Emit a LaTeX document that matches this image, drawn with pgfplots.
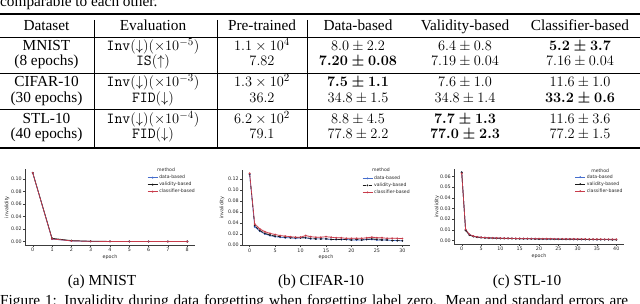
\documentclass[border=0pt]{standalone}
\usepackage{fontspec}
\setmainfont{Liberation Serif}
\newfontfamily\plotfont{DejaVu Sans}
\usepackage{pgfplots}
\pgfplotsset{compat=1.18}
\usepackage{pgfplotstable}

\definecolor{cdata}{RGB}{70,110,205}
\definecolor{cval}{RGB}{25,25,25}
\definecolor{ccls}{RGB}{200,60,75}
\definecolor{spine}{RGB}{60,60,60}

\newcommand{\bmath}[1]{\mbox{\mathversion{bold}$#1$}}

\pgfplotstableread{
e d v c
0 0.110 0.110 0.110
1 0.0040 0.0052 0.0042
2 0.0010 0.0016 0.0011
3 0.0003 0.0005 0.0003
4 0.0002 0.0003 0.0002
5 0.0001 0.0002 0.0001
6 0.0001 0.0001 0.0001
7 0.0001 0.0001 0.0001
8 0.0001 0.0001 0.0001
}\mnist

\pgfplotstableread{
e d v c
0 0.128 0.129 0.130
1 0.033 0.035 0.038
2 0.025 0.026 0.029
3 0.020 0.021 0.024
4 0.017 0.018 0.021
5 0.015 0.016 0.019
6 0.014 0.015 0.017
7 0.013 0.014 0.016
8 0.013 0.013 0.015
9 0.012 0.013 0.014
10 0.013 0.013 0.014
11 0.013 0.013 0.017
12 0.011 0.012 0.015
13 0.011 0.011 0.014
14 0.011 0.011 0.014
15 0.011 0.011 0.015
16 0.010 0.010 0.014
17 0.010 0.010 0.013
18 0.010 0.010 0.013
19 0.010 0.010 0.012
20 0.009 0.009 0.012
21 0.009 0.010 0.012
22 0.009 0.009 0.012
23 0.010 0.010 0.013
24 0.010 0.011 0.014
25 0.009 0.010 0.013
26 0.009 0.009 0.013
27 0.009 0.009 0.012
28 0.008 0.008 0.012
29 0.008 0.008 0.012
30 0.0075 0.0076 0.0116
}\cifar

\pgfplotstableread{
e d v c
0 0.064 0.064 0.063
1 0.0100 0.0095 0.0105
2 0.0055 0.0052 0.0058
3 0.0040 0.0038 0.0042
4 0.0033 0.0032 0.0035
5 0.0029 0.0028 0.0031
6 0.0027 0.0026 0.0028
7 0.0025 0.0024 0.0026
8 0.0024 0.0023 0.0025
9 0.0023 0.0022 0.0024
10 0.0022 0.0021 0.0023
11 0.0021 0.0020 0.0022
12 0.0020 0.0020 0.0021
13 0.0020 0.0019 0.0021
14 0.0019 0.0018 0.0020
15 0.0018 0.0018 0.0020
16 0.0018 0.0017 0.0019
17 0.0017 0.0017 0.0019
18 0.0017 0.0016 0.0018
19 0.0016 0.0016 0.0018
20 0.0016 0.0015 0.0018
21 0.0015 0.0015 0.0017
22 0.0015 0.0014 0.0017
23 0.0014 0.0014 0.0017
24 0.0014 0.0013 0.0016
25 0.0014 0.0013 0.0016
26 0.0013 0.0013 0.0016
27 0.0013 0.0012 0.0015
28 0.0013 0.0012 0.0015
29 0.0012 0.0012 0.0015
30 0.0012 0.0011 0.0014
31 0.0012 0.0011 0.0014
32 0.0011 0.0011 0.0014
33 0.0011 0.0010 0.0013
34 0.0011 0.0010 0.0013
35 0.0010 0.0010 0.0013
36 0.0010 0.0009 0.0013
37 0.0010 0.0009 0.0012
38 0.0009 0.0009 0.0012
39 0.0009 0.0008 0.0012
40 0.0009 0.0008 0.0012
}\stl

\pgfplotsset{
  sns/.style={
    scale only axis,
    axis lines*=left,
    axis line style={spine, line width=0.5pt},
    tick style={spine, line width=0.45pt},
    tick align=outside,
    major tick length=2pt,
    /pgf/number format/assume math mode=true,
    tick label style={font=\plotfont\fontsize{4.8}{5.5}\selectfont, text=black!85, inner sep=1pt},
    yticklabel style={/pgf/number format/fixed, /pgf/number format/fixed zerofill, /pgf/number format/precision=2},
    scaled y ticks=false,
    xlabel={epoch}, ylabel={invalidity},
    label style={font=\plotfont\fontsize{4.8}{5.5}\selectfont, text=black!85},
    xlabel style={at={(axis description cs:0.5,0)}, anchor=center, yshift=-12pt},
    clip=false,
    legend cell align=left,
    legend style={draw=none, fill=none, inner sep=0pt, anchor=north west,
      font=\plotfont\fontsize{4.6}{5}\selectfont, text=black!85,
      nodes={inner sep=1.3pt, text height=3.4pt, text depth=1pt}},
    legend image code/.code={\draw[mark repeat=2,mark phase=2,##1] plot coordinates {(0pt,0pt) (5pt,0pt) (10pt,0pt)};},
    every axis plot/.append style={line width=0.7pt, mark=*, mark size=0.55pt},
  }
}

\newcommand{\tfont}{\fontsize{15.3}{18}\selectfont}

\begin{document}
\begin{tikzpicture}[x=1pt,y=1pt]
\useasboundingbox (0,0) rectangle (640,304);

% text above
\node[anchor=base west, inner sep=0] at (0,{304-6.5}) {\tfont comparable to each other.};

% rules
\draw[line width=1.2pt] (0,{304-14}) -- (640,{304-14});
\draw[line width=0.75pt] (0,{304-37.8}) -- (640,{304-37.8});
\draw[line width=0.75pt] (0,{304-73}) -- (640,{304-73});
\draw[line width=0.75pt] (0,{304-109.3}) -- (640,{304-109.3});
\draw[line width=1.2pt] (0,{304-148}) -- (640,{304-148});
\foreach \xx in {94,217,307} {\draw[line width=0.6pt] (\xx,{304-20}) -- (\xx,{304-148});}

% table text
\begin{scope}[every node/.style={anchor=base, inner sep=0, font=\tfont}]
\node at (46.5,{304-30.7}) {Dataset};
\node at (153,{304-30.7}) {Evaluation};
\node at (262,{304-30.7}) {Pre-trained};
\node at (358,{304-30.7}) {Data-based};
\node at (465,{304-30.7}) {Validity-based};
\node at (580,{304-30.7}) {Classifier-based};

\node at (46.5,{304-50.7}) {MNIST};
\node at (153,{304-50.7}) {\texttt{Inv}$(\downarrow)(\times10^{-5})$};
\node at (262,{304-50.7}) {$1.1\times10^{4}$};
\node at (358,{304-50.7}) {$8.0\pm2.2$};
\node at (465,{304-50.7}) {$6.4\pm0.8$};
\node at (580,{304-50.7}) {\bmath{5.2\pm3.7}};

\node at (46.5,{304-65.9}) {(8 epochs)};
\node at (153,{304-65.9}) {\texttt{IS}$(\uparrow)$};
\node at (262,{304-65.9}) {$7.82$};
\node at (358,{304-65.9}) {\bmath{7.20\pm0.08}};
\node at (465,{304-65.9}) {$7.19\pm0.04$};
\node at (580,{304-65.9}) {$7.16\pm0.04$};

\node at (46.5,{304-87}) {CIFAR-10};
\node at (153,{304-87}) {\texttt{Inv}$(\downarrow)(\times10^{-3})$};
\node at (262,{304-87}) {$1.3\times10^{2}$};
\node at (358,{304-87}) {\bmath{7.5\pm1.1}};
\node at (465,{304-87}) {$7.6\pm1.0$};
\node at (580,{304-87}) {$11.6\pm1.0$};

\node at (46.5,{304-102.2}) {(30 epochs)};
\node at (153,{304-102.2}) {\texttt{FID}$(\downarrow)$};
\node at (262,{304-102.2}) {$36.2$};
\node at (358,{304-102.2}) {$34.8\pm1.5$};
\node at (465,{304-102.2}) {$34.8\pm1.4$};
\node at (580,{304-102.2}) {\bmath{33.2\pm0.6}};

\node at (46.5,{304-123.3}) {STL-10};
\node at (153,{304-123.3}) {\texttt{Inv}$(\downarrow)(\times10^{-4})$};
\node at (262,{304-123.3}) {$6.2\times10^{2}$};
\node at (358,{304-123.3}) {$8.8\pm4.5$};
\node at (465,{304-123.3}) {\bmath{7.7\pm1.3}};
\node at (580,{304-123.3}) {$11.6\pm3.6$};

\node at (46.5,{304-138.5}) {(40 epochs)};
\node at (153,{304-138.5}) {\texttt{FID}$(\downarrow)$};
\node at (262,{304-138.5}) {$79.1$};
\node at (358,{304-138.5}) {$77.8\pm2.2$};
\node at (465,{304-138.5}) {\bmath{77.0\pm2.3}};
\node at (580,{304-138.5}) {$77.2\pm1.5$};

\node at (102,{304-286}) {(a) MNIST};
\node at (321,{304-286}) {(b) CIFAR-10};
\node at (527,{304-286}) {(c) STL-10};
\end{scope}

\node[anchor=base west, inner sep=0] at (0,{304-306}) {\tfont\makebox[628pt][s]{Figure 1: Invalidity during data forgetting when forgetting label zero. Mean and standard errors are}};

% (a) MNIST
\begin{axis}[sns, at={(25pt,59pt)}, anchor=south west, width=170pt, height=75.6pt,
  xmin=-0.4, xmax=8.4, ymin=-0.0055, ymax=0.1155,
  xtick={0,1,2,3,4,5,6,7,8}, ytick={0,0.02,0.04,0.06,0.08,0.10},
  ylabel style={at={(axis description cs:-0.106,0.5)}, anchor=center},
  legend style={at={(axis description cs:0.718,0.94)}}]
\addplot[color=cdata] table[x=e,y=d] {\mnist};
\addplot[color=cval] table[x=e,y=v] {\mnist};
\addplot[color=ccls] table[x=e,y=c] {\mnist};
\legend{data-based, validity-based, classifier-based}
\node[font=\plotfont\fontsize{4.6}{5}\selectfont, text=black!85] at (axis description cs:0.83,0.99) {method};
\end{axis}

% (b) CIFAR-10
\begin{axis}[sns, at={(242pt,58.5pt)}, anchor=south west, width=168pt, height=75.4pt,
  xmin=-1.5, xmax=31.5, ymin=-0.001, ymax=0.136,
  xtick={0,5,10,15,20,25,30}, ytick={0,0.02,0.04,0.06,0.08,0.10,0.12},
  ylabel style={at={(axis description cs:-0.119,0.5)}, anchor=center},
  legend style={at={(axis description cs:0.714,0.94)}}]
% validity-based band
\addplot[fill=black, fill opacity=0.12, draw=none, mark=none, forget plot] coordinates {
(0,0.132) (1,0.038) (2,0.028) (3,0.023) (4,0.019) (5,0.017) (6,0.016) (7,0.015) (8,0.014) (9,0.014)
(10,0.014) (11,0.014) (12,0.013) (13,0.012) (14,0.012) (15,0.012) (16,0.011) (17,0.011) (18,0.011) (19,0.011)
(20,0.010) (21,0.011) (22,0.010) (23,0.012) (24,0.015) (25,0.014) (26,0.011) (27,0.010) (28,0.009) (29,0.009) (30,0.009)
(30,0.007) (29,0.007) (28,0.007) (27,0.008) (26,0.008) (25,0.008) (24,0.009) (23,0.009) (22,0.008) (21,0.009) (20,0.008)
(19,0.009) (18,0.009) (17,0.009) (16,0.009) (15,0.010) (14,0.010) (13,0.010) (12,0.011) (11,0.012) (10,0.012)
(9,0.012) (8,0.012) (7,0.013) (6,0.014) (5,0.015) (4,0.017) (3,0.019) (2,0.024) (1,0.032) (0,0.126)} --cycle;
% classifier-based band
\addplot[fill=ccls, fill opacity=0.15, draw=none, mark=none, forget plot] coordinates {
(0,0.133) (1,0.041) (2,0.031) (3,0.026) (4,0.022) (5,0.020) (6,0.018) (7,0.017) (8,0.016) (9,0.015)
(10,0.015) (11,0.019) (12,0.016) (13,0.015) (14,0.015) (15,0.016) (16,0.015) (17,0.014) (18,0.014) (19,0.013)
(20,0.013) (21,0.013) (22,0.013) (23,0.014) (24,0.016) (25,0.014) (26,0.014) (27,0.013) (28,0.013) (29,0.013) (30,0.013)
(30,0.011) (29,0.011) (28,0.011) (27,0.011) (26,0.012) (25,0.012) (24,0.012) (23,0.012) (22,0.011) (21,0.011) (20,0.011)
(19,0.011) (18,0.012) (17,0.012) (16,0.013) (15,0.014) (14,0.013) (13,0.013) (12,0.014) (11,0.015) (10,0.013)
(9,0.013) (8,0.014) (7,0.015) (6,0.016) (5,0.018) (4,0.019) (3,0.022) (2,0.027) (1,0.035) (0,0.127)} --cycle;
\addplot[color=cdata] table[x=e,y=d] {\cifar};
\addplot[color=cval, dashed] table[x=e,y=v] {\cifar};
\addplot[color=ccls] table[x=e,y=c] {\cifar};
\legend{data-based, validity-based, classifier-based}
\node[font=\plotfont\fontsize{4.6}{5}\selectfont, text=black!85] at (axis description cs:0.827,1.0) {method};
\end{axis}

% (c) STL-10
\begin{axis}[sns, at={(454pt,60pt)}, anchor=south west, width=170pt, height=75.1pt,
  xmin=-2, xmax=42, ymin=-0.0032, ymax=0.0672,
  xtick={0,5,10,15,20,25,30,35,40}, ytick={0,0.01,0.02,0.03,0.04,0.05,0.06},
  ylabel style={at={(axis description cs:-0.1,0.5)}, anchor=center},
  legend style={at={(axis description cs:0.71,0.94)}}]
\addplot[color=cdata] table[x=e,y=d] {\stl};
\addplot[color=cval] table[x=e,y=v] {\stl};
\addplot[color=ccls] table[x=e,y=c] {\stl};
\legend{data-based, validity-based, classifier-based}
\node[font=\plotfont\fontsize{4.6}{5}\selectfont, text=black!85] at (axis description cs:0.86,0.98) {method};
\end{axis}
\end{tikzpicture}
\end{document}
